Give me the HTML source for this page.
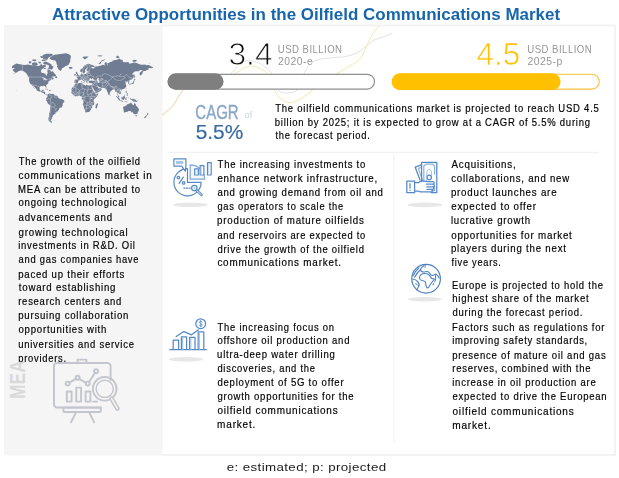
<!DOCTYPE html>
<html><head><meta charset="utf-8"><title>Attractive Opportunities in the Oilfield Communications Market</title>
<style>
html,body{margin:0;padding:0;background:#fff;}
body{width:619px;height:478px;position:relative;overflow:hidden;font-family:"Liberation Sans",sans-serif;}
#bg{position:absolute;left:0;top:0;width:619px;height:478px;}
.t{position:absolute;white-space:nowrap;line-height:1;transform-origin:0 0;display:block;}
.b{letter-spacing:0.85px;-webkit-text-stroke:0.18px currentColor;}
.thin{-webkit-text-stroke:0.9px #fff;}
.thiny{-webkit-text-stroke:0.7px #fff;}
.g{letter-spacing:0.5px;}
.cap{letter-spacing:0.35px;}
.cagr{-webkit-text-stroke:0.35px currentColor;}
.pct{-webkit-text-stroke:0.2px currentColor;}
.clipp{clip-path:inset(0 0 1.8px 0);}
#meaclip{position:absolute;left:0;top:361.8px;width:45px;height:60px;overflow:hidden;}
#mea{position:absolute;left:6.9px;top:37.3px;transform-origin:0 0;transform:rotate(-90deg) scale(0.775,1);font-size:22.5px;line-height:1;font-weight:700;color:#d9d9d9;white-space:nowrap;}
</style></head><body>
<svg id="bg" width="619" height="478" viewBox="0 0 619 478">
<defs>
<clipPath id="rp"><rect x="162" y="25.5" width="453" height="128"/></clipPath>
<filter id="bl" x="-20%" y="-100%" width="140%" height="300%"><feGaussianBlur stdDeviation="0.75"/></filter>
</defs>
<!-- right white panel with soft border -->
<rect x="161.5" y="25.4" width="453.6" height="429.5" fill="#ffffff" stroke="#f2f2f2" stroke-width="1.8"/>
<!-- left panel -->
<rect x="4" y="25" width="157.5" height="430.4" fill="#f5f5f5"/>
<!-- decorative curves -->
<g clip-path="url(#rp)" fill="none" stroke-width="0.9" stroke-linecap="round">
<path d="M162.0 114.5 C162.3 114.2 161.9 115.0 164.0 113.0 C166.1 111.0 171.9 106.2 174.7 102.7 C177.5 99.2 178.4 95.1 181.0 92.0 C183.6 88.9 185.2 86.0 190.0 84.0 C194.8 82.0 204.2 81.2 210.0 80.0 C215.8 78.8 221.2 78.3 225.0 77.0 C228.8 75.7 230.0 74.5 232.5 72.3 C235.0 70.1 237.2 65.8 239.8 63.9 C242.4 62.0 245.0 60.9 248.2 60.7 C251.3 60.5 255.9 61.8 258.7 62.8 C261.5 63.8 262.9 65.3 265.0 67.0 C267.1 68.7 269.8 70.6 271.3 72.9 C272.8 75.2 273.1 78.3 274.0 81.0 C274.9 83.7 275.2 87.1 276.6 89.0 C278.0 90.9 280.2 92.0 282.6 92.6 C285.0 93.2 288.6 93.1 291.0 92.6 C293.4 92.1 295.6 91.6 297.3 89.7 C299.0 87.8 299.8 83.9 301.0 81.0 C302.2 78.1 303.2 75.0 304.7 72.3 C306.2 69.6 307.6 67.0 309.9 64.9 C312.2 62.8 314.4 60.9 318.3 59.7 C322.2 58.5 328.4 58.1 333.0 57.6 C337.6 57.1 341.4 57.4 345.6 56.5 C349.8 55.6 354.4 54.4 358.2 52.3 C362.0 50.2 365.9 46.0 368.7 43.9 C371.5 41.8 372.7 40.8 375.0 39.7 C377.3 38.6 379.6 38.3 382.4 37.2 C385.2 36.1 390.4 33.7 392.0 33.0" stroke="#dcdce2"/>
<path d="M162.0 115.5 C162.8 114.9 165.2 113.4 167.0 112.0 C168.8 110.6 170.6 109.6 172.6 107.0 C174.6 104.4 177.2 99.1 178.9 96.4 C180.7 93.7 180.4 93.1 183.1 91.0 C185.8 88.9 189.7 85.8 195.0 84.0 C200.3 82.2 209.2 81.3 215.0 80.0 C220.8 78.7 226.2 77.3 230.0 76.0 C233.8 74.7 235.4 73.6 237.7 72.3 C240.0 71.0 241.6 69.0 244.0 68.0 C246.4 67.0 249.6 65.8 252.4 66.0 C255.2 66.2 258.4 67.8 260.8 69.0 C263.2 70.2 265.3 71.3 267.0 73.3 C268.7 75.3 269.8 78.2 271.0 81.0 C272.2 83.8 273.1 87.2 274.5 90.0 C275.9 92.8 277.1 95.4 279.5 97.5 C281.9 99.6 285.6 102.4 288.9 102.7 C292.2 103.0 295.9 101.3 299.4 99.6 C302.9 97.8 306.5 95.0 309.9 92.2 C313.3 89.4 316.6 85.5 320.0 83.0 C323.4 80.5 326.8 78.8 330.0 77.0 C333.2 75.2 336.0 74.1 339.3 72.3 C342.6 70.5 346.3 68.3 349.8 66.0 C353.3 63.7 357.5 61.9 360.3 58.6 C363.1 55.3 364.5 50.2 366.6 46.0 C368.7 41.8 370.8 36.7 372.9 33.4 C375.0 30.1 378.1 27.2 379.2 26.0" stroke="#f6e3a0"/>
</g>
<!-- progress bar 1 -->
<rect x="168.6" y="74.3" width="205.9" height="14.8" rx="7.4" fill="#ffffff" stroke="#8f8f8f" stroke-width="1.15"/>
<rect x="167.4" y="73.2" width="56.2" height="16.6" rx="8.3" fill="#7f7f7f"/>
<!-- progress bar 2 -->
<rect x="392.5" y="74.3" width="206.8" height="14.8" rx="7.4" fill="#ffffff" stroke="#f7c23c" stroke-width="1.1"/>
<rect x="391.6" y="73.2" width="169" height="16.9" rx="8.45" fill="#ffc000"/>
<!-- separators -->
<rect x="168.5" y="151.8" width="430" height="1.1" fill="#f0f0f0"/>
<rect x="393.4" y="154.5" width="1.1" height="288.5" fill="#f1f1f1"/>

<!-- world map -->
<g id="map">
<path d="M11.8 67.6L12.5 65.7L16.3 63.6L22.4 64.8L25.2 64.9L27.6 64.4L31.9 65.2L35.5 65.8L38.6 65.9L40.4 65.2L41.0 63.2L42.6 65.4L44.6 64.8L45.9 65.6L45.7 66.9L44.2 67.1L43.6 68.2L41.8 69.3L40.8 71.0L41.6 72.7L43.8 73.3L45.5 73.7L45.7 75.0L46.5 75.8L46.9 75.4L47.0 74.1L47.8 73.0L47.3 71.7L47.5 70.7L47.3 69.5L48.9 69.6L50.5 70.4L50.7 71.6L52.1 71.8L52.5 70.8L53.7 72.4L54.4 73.5L55.6 74.6L56.1 75.4L54.8 76.4L52.5 76.4L51.3 77.0L52.7 77.1L52.5 77.8L54.0 78.5L53.1 79.2L52.1 79.7L51.7 79.0L50.5 79.7L50.3 80.4L48.9 81.1L48.3 82.3L48.1 83.6L46.9 84.5L46.1 85.2L46.5 87.2L46.4 87.9L45.8 87.6L45.4 86.5L45.0 85.9L43.4 85.7L42.6 86.2L41.0 86.1L39.7 86.8L39.6 88.0L39.5 89.1L40.2 90.4L40.8 90.8L42.0 90.7L42.4 89.7L43.8 89.5L43.5 90.8L43.1 91.7L45.0 91.8L45.2 92.1L45.1 93.5L45.5 94.5L46.6 94.4L47.6 94.7L47.4 95.2L46.6 95.2L46.3 94.8L45.4 94.8L44.3 94.1L43.6 92.9L42.0 92.5L40.8 91.6L39.2 91.6L37.8 90.9L36.5 90.0L36.5 89.0L35.1 87.8L33.7 86.1L32.8 85.2L32.9 85.9L33.9 87.4L34.7 88.4L34.8 88.9L33.8 88.0L33.0 86.8L32.4 85.8L31.8 84.7L30.5 83.9L29.9 82.8L29.1 81.2L29.1 80.0L29.1 78.4L28.9 77.3L29.7 77.5L29.5 76.8L28.0 76.0L26.7 74.1L25.4 72.4L24.2 71.7L22.8 71.1L20.4 70.5L19.1 71.0L18.1 71.6L17.1 72.3L15.7 73.0L14.1 73.8L13.0 74.1L14.5 73.3L15.7 71.9L14.1 71.7L12.9 70.5L12.7 69.5L14.5 68.7L14.5 68.0L12.3 68.2ZM46.5 61.8L48.1 62.5L51.3 64.2L51.7 65.6L53.7 66.7L52.7 68.2L52.1 69.8L49.9 69.3L47.4 68.2L49.1 67.2L48.9 65.6L46.9 64.5L44.6 64.5L43.0 63.4L43.8 62.0ZM31.9 63.1L34.7 62.3L36.7 62.7L38.0 64.5L36.7 65.5L33.5 65.6L31.9 64.5ZM28.7 63.1L29.1 61.3L31.7 61.6L30.7 63.6L29.5 63.6ZM42.6 59.6L47.3 59.7L48.5 57.5L53.3 54.9L51.3 53.7L46.5 53.7L42.2 55.2L43.8 57.0ZM41.8 59.7L46.5 60.4L46.5 61.2L41.8 61.0ZM32.3 59.6L35.5 59.6L36.7 60.8L34.7 61.2L32.3 60.8ZM40.2 56.1L43.4 56.3L43.8 57.9L41.0 58.1ZM38.6 61.7L40.2 61.7L41.4 62.7L39.8 63.4L38.2 62.7ZM44.0 67.6L46.1 68.4L45.4 69.3L43.8 68.8ZM54.7 77.7L56.0 75.7L57.2 77.3L57.2 78.2L56.1 78.1L56.0 77.7ZM27.4 76.1L28.7 76.5L29.4 77.3L28.6 77.1ZM49.3 58.2L51.3 56.6L54.4 54.7L60.4 53.9L66.3 53.2L70.3 54.9L71.0 56.6L70.3 59.2L70.3 61.2L69.5 63.1L68.7 64.5L67.5 65.6L65.5 65.9L63.9 67.4L62.3 67.9L61.6 69.5L61.0 71.0L60.0 70.5L58.8 69.8L57.8 68.2L57.0 66.6L57.6 65.2L56.6 64.2L56.4 62.3L55.2 60.4L52.1 60.0L50.5 59.2ZM68.7 67.6L69.5 67.0L71.8 66.9L72.8 67.9L70.8 68.9L69.3 68.6ZM47.6 94.7L48.3 93.9L49.9 93.2L49.9 93.8L51.3 93.9L52.9 93.9L53.7 93.9L54.4 94.7L55.6 95.7L56.8 95.8L57.8 96.4L58.4 97.7L59.0 98.6L60.6 99.1L62.3 99.2L63.5 100.0L64.3 100.7L64.3 101.7L63.5 102.7L62.7 103.5L62.7 105.1L62.2 106.5L61.6 107.4L60.4 107.7L59.0 108.6L58.9 109.7L58.0 110.8L57.0 112.1L55.8 112.4L55.1 112.1L55.6 113.2L55.3 114.0L53.7 114.4L53.5 115.3L52.5 115.3L52.9 116.1L52.3 117.2L51.5 117.8L52.1 118.6L50.9 120.0L51.1 121.0L52.4 122.3L51.1 122.7L49.9 121.8L48.7 120.8L48.3 118.7L48.9 116.7L49.1 114.8L49.1 113.4L49.9 111.2L50.0 109.5L50.3 107.6L50.4 105.5L49.7 104.9L48.0 103.7L47.6 102.9L46.9 101.3L46.1 100.5L46.0 99.8L46.5 99.3L46.1 98.5L46.5 97.8L47.0 97.5L47.6 96.5L47.5 95.4L47.4 95.2ZM74.6 82.8L74.4 81.9L74.7 80.7L74.5 80.0L75.2 79.6L77.4 79.8L77.7 78.5L76.3 77.3L77.6 77.2L77.5 76.6L78.2 76.6L78.8 76.0L79.5 75.8L80.1 74.9L80.9 74.6L81.6 74.4L81.4 72.8L82.3 72.3L82.2 73.3L82.0 73.8L82.5 74.4L83.7 74.4L85.5 74.0L86.0 74.1L86.5 73.7L86.5 72.7L87.6 72.6L87.4 71.6L89.2 71.2L90.0 71.0L88.4 70.7L87.2 71.0L86.6 70.4L86.7 69.2L88.2 67.8L86.9 67.4L86.5 68.5L85.0 69.8L85.0 70.7L85.6 71.1L84.7 72.4L84.5 73.2L83.8 73.6L83.3 73.6L83.1 73.1L82.6 71.9L82.4 71.4L81.3 72.1L80.4 71.7L80.1 70.4L80.9 69.2L82.3 68.4L83.3 67.1L84.3 65.7L85.7 64.7L87.4 64.1L88.4 63.7L90.4 64.3L90.6 64.7L92.4 65.1L94.4 66.0L94.4 66.9L93.2 67.1L91.2 66.7L91.9 67.9L92.0 68.3L93.2 68.4L94.2 68.2L94.0 67.4L95.6 67.1L95.7 65.6L96.3 65.9L96.7 66.7L99.5 65.7L101.5 65.6L102.1 64.7L103.7 65.0L105.2 65.7L104.6 64.7L104.6 63.6L105.4 62.3L106.9 62.6L106.8 64.3L107.3 65.8L107.6 65.2L107.4 63.1L109.0 62.9L110.2 61.9L112.6 61.6L112.2 60.8L115.3 60.0L117.7 59.6L119.4 58.6L120.5 59.6L122.8 60.0L123.0 61.7L121.2 61.6L122.8 62.0L125.6 62.3L128.4 62.0L129.4 63.7L130.7 63.4L133.5 62.7L133.9 62.5L137.5 63.2L138.6 63.9L141.4 64.7L142.2 64.8L145.6 64.5L145.8 65.2L148.5 64.9L149.3 65.3L151.3 66.5L153.4 67.2L152.1 67.9L150.9 68.3L149.7 67.9L148.3 68.1L149.0 69.5L146.9 69.9L145.4 71.0L143.8 71.1L142.7 71.8L142.6 73.3L142.1 74.1L141.4 74.8L140.7 75.0L140.1 76.0L139.7 74.6L139.7 73.0L140.2 72.3L141.4 71.2L142.7 70.0L141.4 69.9L140.1 70.1L139.0 71.3L137.1 71.3L134.7 71.4L133.5 72.4L132.5 73.8L131.6 74.0L132.3 74.5L133.5 74.6L134.0 75.3L133.7 76.5L133.6 77.5L132.9 78.3L131.7 79.5L130.7 80.1L129.9 80.2L129.4 80.7L129.4 81.4L128.6 81.7L128.9 82.0L129.3 82.8L129.3 83.5L128.6 83.8L128.1 83.8L128.2 83.0L128.0 82.4L127.7 81.6L127.3 81.4L126.1 81.9L126.3 81.0L125.2 81.8L124.7 82.1L125.2 82.6L125.9 82.4L126.6 82.7L125.7 83.2L125.3 83.7L125.9 84.6L126.3 85.4L126.4 85.9L126.0 86.7L125.4 87.8L124.8 88.3L124.2 88.8L123.3 89.1L122.0 89.5L121.8 90.0L121.5 89.5L120.9 89.4L120.3 89.8L120.0 90.5L120.7 91.5L121.3 92.7L121.2 93.5L120.5 94.0L119.7 94.6L119.7 94.1L118.9 93.7L118.6 93.3L118.0 93.0L117.9 92.7L117.7 93.1L117.4 93.9L117.6 94.4L117.9 95.2L118.4 95.5L118.9 95.9L119.1 96.5L119.1 97.1L119.4 97.5L119.0 97.5L118.2 97.0L117.8 96.1L117.8 95.5L117.1 94.9L117.1 94.1L117.1 93.1L116.8 92.1L116.7 91.5L115.9 91.8L115.4 91.7L115.4 90.7L114.6 89.7L114.4 89.1L113.9 89.3L113.3 89.4L112.6 89.5L112.4 90.0L111.8 90.2L110.7 91.4L109.9 91.9L109.9 92.8L109.7 94.0L109.4 94.4L109.1 94.6L108.8 94.9L108.4 94.5L108.0 93.5L107.6 92.3L107.2 91.5L106.9 90.5L106.9 89.7L106.8 89.2L106.1 89.8L105.4 89.1L105.9 88.8L105.1 88.5L104.6 88.1L104.4 87.8L102.7 87.9L101.1 87.8L100.7 87.2L100.4 87.1L99.7 87.3L98.9 86.9L98.2 86.3L97.9 85.8L97.5 85.7L97.1 86.1L97.4 86.7L98.0 87.3L98.2 88.0L98.4 87.5L98.6 88.2L98.9 88.3L99.5 88.3L100.5 87.5L100.5 88.0L101.3 88.6L101.8 89.0L101.3 89.9L101.0 90.5L100.4 90.9L99.9 91.3L98.8 91.9L97.5 92.5L95.9 93.0L95.4 93.0L95.1 92.2L95.0 91.5L94.4 90.5L93.7 89.5L93.4 88.5L92.8 87.8L92.2 86.8L92.0 86.1L91.7 86.9L91.4 86.6L91.0 85.9L90.9 85.3L91.7 85.3L92.0 84.6L92.4 83.7L92.4 82.9L91.8 82.9L91.0 83.2L90.3 82.9L89.7 82.9L89.0 82.8L88.6 82.2L88.8 81.6L88.5 81.3L89.6 81.1L89.7 80.8L90.6 80.8L91.4 80.4L92.1 80.4L92.6 80.8L93.4 81.0L94.6 80.7L94.6 80.2L93.9 79.7L93.1 79.1L92.7 78.9L93.2 78.3L93.7 77.9L93.0 78.0L92.1 78.3L92.2 78.9L91.4 79.3L91.0 78.8L91.4 78.5L90.7 78.3L90.3 78.3L89.9 78.9L89.5 79.5L89.2 80.1L89.3 80.6L89.5 80.8L89.0 81.0L88.4 81.1L87.6 81.0L87.4 81.3L87.2 81.2L87.2 81.7L87.6 82.3L87.3 83.0L87.0 83.0L86.7 82.9L86.5 82.4L86.5 81.8L86.0 81.5L85.8 80.9L85.8 80.5L85.5 80.2L84.5 79.7L84.1 79.2L83.9 78.9L83.5 78.9L83.6 78.7L83.1 78.8L83.1 79.4L83.5 79.7L83.8 80.3L84.5 80.5L85.3 81.1L85.5 81.3L84.9 81.2L84.7 81.6L85.0 81.8L84.7 82.1L84.5 82.4L84.4 82.3L84.4 81.4L83.8 81.0L83.0 80.6L82.3 80.0L82.2 79.5L81.6 79.3L81.1 79.6L80.5 79.9L79.7 79.7L79.3 80.2L79.4 80.5L78.5 81.0L78.0 81.7L78.2 81.9L77.9 82.4L77.4 82.9L76.4 82.9L76.0 83.2L75.7 82.9L75.2 82.7ZM75.8 83.3L77.0 83.5L77.9 83.4L79.3 82.9L81.2 82.8L82.1 82.6L82.5 82.7L82.4 83.3L82.2 84.0L82.6 84.5L83.4 84.6L84.2 84.8L85.7 85.7L86.1 85.0L86.7 84.6L87.3 84.9L88.1 85.2L89.6 85.5L90.0 85.3L90.4 85.2L90.9 85.3L91.0 85.9L91.4 86.8L91.8 87.8L92.2 88.5L92.8 89.5L92.9 90.3L93.4 90.9L93.8 91.9L94.4 92.3L95.2 93.1L95.3 93.5L95.8 93.9L96.7 93.7L98.4 93.4L98.2 94.1L97.8 95.0L97.1 96.3L96.1 97.3L95.2 98.3L94.6 98.8L94.1 99.3L93.8 99.9L93.5 100.7L93.8 101.3L93.8 102.1L94.2 102.3L94.2 103.7L94.2 104.5L93.4 105.0L92.7 105.3L92.0 106.0L92.2 106.9L92.2 107.8L91.1 108.5L91.1 109.5L90.5 110.2L89.6 111.4L88.8 112.0L88.3 112.1L87.1 112.2L86.1 112.4L85.4 112.2L85.4 111.4L85.0 110.1L84.3 109.0L84.0 107.8L83.9 106.9L83.1 105.3L82.8 104.5L83.1 103.5L83.6 102.5L83.4 101.6L83.0 100.5L82.8 99.9L81.9 98.9L81.6 98.4L81.9 97.7L82.0 96.8L81.7 96.3L80.9 96.4L80.3 96.0L79.5 95.6L78.6 95.7L77.4 96.2L76.6 96.0L75.2 96.4L74.5 95.9L73.9 95.6L72.9 94.7L72.7 94.3L72.2 93.7L71.6 93.2L71.5 92.7L71.2 92.2L71.6 91.7L71.7 90.5L71.4 89.7L71.8 88.5L72.3 87.8L73.0 86.9L73.7 86.4L74.4 85.7L74.3 85.2L74.8 84.4L75.5 84.1ZM97.6 102.9L98.1 104.3L97.7 105.1L96.8 108.2L95.9 108.4L95.4 107.6L95.7 106.1L95.8 104.6L96.5 104.4L97.1 103.5ZM75.9 76.4L76.8 76.3L78.7 75.9L78.8 75.1L78.3 74.9L78.1 74.1L77.5 73.5L77.3 73.3L77.4 72.4L76.8 72.3L77.0 71.8L76.2 71.8L75.7 72.4L76.0 73.3L76.3 73.9L76.9 73.9L77.0 74.7L76.4 74.7L76.5 75.3L76.1 75.5L76.9 75.8L76.5 75.9ZM74.2 75.7L75.7 75.3L75.8 74.7L75.9 74.0L75.3 73.7L74.8 74.2L74.2 74.3L74.4 74.8L74.1 75.3ZM129.6 85.3L130.1 85.3L130.3 84.3L131.3 84.1L131.6 84.3L132.2 83.9L133.0 83.8L133.5 83.6L133.9 83.4L133.9 82.2L134.3 81.5L134.1 80.7L133.5 81.0L133.4 81.8L132.9 82.6L132.3 82.7L132.2 82.9L131.9 83.4L130.7 83.4L129.9 84.0L129.4 84.5ZM133.5 80.4L133.9 79.9L134.2 78.8L135.6 79.7L134.8 80.4L133.9 80.2ZM134.3 78.5L134.9 78.1L134.7 76.9L135.3 77.0L134.8 75.4L134.6 74.2L134.3 74.6L134.2 76.5L134.3 77.5ZM126.0 89.3L126.3 88.0L126.0 88.0L125.6 88.8ZM121.1 90.4L121.6 90.1L122.0 90.2L121.6 90.8ZM109.7 94.3L110.5 95.1L110.3 95.6L109.8 95.7L109.7 94.9ZM125.8 90.7L126.5 90.7L126.5 91.7L127.2 92.6L127.1 93.0L126.4 92.5L125.8 92.4L125.6 91.6ZM126.4 95.3L127.0 94.7L127.8 94.2L128.2 95.2L127.8 95.8L127.2 95.5ZM126.4 93.9L126.8 93.5L127.8 93.1L127.8 94.1L127.2 94.1L126.8 94.5ZM124.5 94.7L125.4 93.9L125.4 93.6L124.8 94.3ZM121.2 97.5L121.5 97.3L122.2 97.0L122.8 96.8L123.8 95.9L124.4 95.3L125.3 96.0L124.7 96.4L125.2 97.7L124.6 98.4L124.2 99.6L123.5 99.7L122.8 99.4L122.3 99.5L121.7 99.2L121.6 98.6L121.2 98.1ZM115.8 95.9L116.7 96.0L117.9 97.2L119.1 98.1L119.5 98.9L120.1 99.4L120.0 100.4L119.5 100.4L118.6 99.7L117.9 98.7L117.2 97.4L116.5 96.8ZM119.7 100.8L120.3 100.5L121.1 100.8L122.0 100.6L122.7 100.8L123.4 101.2L123.4 101.5L122.0 101.4L120.9 101.2L120.2 101.0ZM125.4 100.3L125.2 99.4L125.5 98.0L126.0 97.6L127.0 97.7L127.7 97.5L127.2 98.0L125.9 97.9L126.1 98.5L126.9 98.5L126.4 98.8L126.7 99.7L126.3 100.0L126.0 99.2L125.8 99.3L125.8 100.3ZM129.9 98.4L131.1 98.4L131.5 99.4L132.6 98.7L133.9 99.1L135.3 99.6L136.3 100.5L136.6 101.3L137.7 102.3L136.3 102.1L134.9 101.6L133.9 101.7L132.9 101.4L132.7 100.7L131.5 99.9L130.7 99.7L130.3 99.1ZM124.0 101.4L125.2 101.4L126.8 101.4L127.6 101.9L127.0 102.2L125.6 101.9L124.0 101.6ZM128.6 97.3L129.0 97.7L128.8 98.4L128.5 97.9ZM136.9 100.3L138.2 99.8L138.3 100.3L137.3 100.6ZM123.0 106.9L123.3 108.6L123.6 110.5L123.9 111.6L123.6 112.2L124.8 112.5L125.6 112.0L127.0 112.0L128.0 111.3L129.2 111.0L130.0 111.0L131.1 111.6L131.8 112.4L132.6 111.6L132.7 112.8L133.4 113.0L133.7 113.9L134.9 114.3L135.5 113.9L136.0 114.4L136.7 113.8L137.5 113.5L137.8 112.5L138.0 111.9L138.6 111.0L138.9 109.7L138.7 108.6L137.9 107.7L137.3 107.0L136.9 106.2L136.0 105.7L135.8 104.8L135.6 104.0L135.0 103.8L134.5 102.4L134.2 103.1L134.1 104.1L133.8 105.1L133.3 105.1L132.6 104.5L131.8 104.1L131.9 103.0L131.7 102.9L130.6 102.7L129.9 103.0L129.5 103.5L129.4 104.1L128.8 104.1L128.3 103.7L127.8 103.9L127.2 104.6L126.5 105.0L126.5 105.5L125.4 106.1L124.3 106.4L123.5 106.8ZM135.4 115.1L136.8 115.2L136.7 116.3L136.1 116.5L135.6 115.9ZM146.4 112.3L147.1 112.7L147.5 113.3L148.7 113.8L148.1 114.6L148.0 115.0L147.4 115.6L147.3 114.8L146.9 114.5L147.3 113.7ZM146.5 115.1L147.0 115.5L146.5 116.6L145.8 117.4L145.2 118.0L144.0 117.7L144.7 116.8L145.7 116.1ZM82.5 57.0L84.5 56.6L86.5 56.4L88.8 56.6L86.9 58.1L84.9 59.4L83.7 58.5ZM98.5 63.4L100.1 62.2L101.9 60.2L105.2 59.2L104.3 60.2L101.1 61.7L100.7 63.8L99.3 64.0ZM115.7 57.3L117.7 55.5L119.7 57.5L117.7 58.3ZM132.3 60.4L134.3 59.8L137.5 60.6L134.7 62.0L132.7 61.6ZM96.7 56.1L99.9 55.2L102.7 55.7L101.1 56.6ZM148.7 63.7L150.1 63.4L149.3 64.0ZM44.6 89.3L45.5 88.8L46.5 88.8L47.7 89.4L48.8 90.0L47.5 90.1L47.3 89.8L46.1 89.3L45.4 89.3ZM48.8 90.7L49.3 90.1L50.5 90.2L51.1 90.7L50.3 90.8L49.8 91.0ZM47.2 90.7L48.0 90.8L47.6 91.0ZM51.6 90.7L52.2 90.8L51.9 90.9ZM83.1 82.3L84.3 82.2L84.1 82.9L83.1 82.5ZM81.4 80.9L82.0 80.9L82.0 81.8L81.5 81.8ZM81.6 80.2L81.9 80.0L81.9 80.7L81.6 80.6ZM87.4 83.4L88.6 83.6L87.6 83.7ZM90.9 83.7L91.8 83.4L91.5 83.8ZM16.5 90.0L17.0 90.3L16.6 90.5L16.4 90.2ZM54.0 120.5L55.2 120.4L54.8 120.9Z" fill="#6f7c91"/>
<path d="M96.7 79.0L97.7 78.3L99.1 78.1L98.9 79.0L98.3 79.2L99.0 80.2L98.9 80.9L99.5 81.4L99.4 82.6L98.3 82.9L97.5 82.5L97.6 81.2L96.9 80.0ZM41.8 78.1L43.4 77.3L44.8 78.3L46.5 78.8L46.7 79.7L45.4 80.4L45.2 79.0L43.8 80.4L43.4 79.2L44.2 78.5ZM119.3 75.7L121.4 73.5L121.6 73.7L119.7 75.7ZM90.7 98.3L91.6 98.0L91.6 99.1L90.8 99.1ZM101.3 78.3L102.5 78.3L102.3 79.6L101.3 79.5Z" fill="#f4f4f4"/>
<path d="M29.5 77.0L40.6 77.0L43.0 77.5L45.0 78.4L45.5 80.0L46.9 79.8L48.5 79.0L50.1 78.9L51.5 77.9L51.7 79.0M22.4 64.8L22.4 70.9L24.0 71.6L25.6 73.5L26.7 73.9M31.8 84.7L34.3 85.3L35.5 85.2L36.1 85.1L37.4 86.3L38.2 86.0L38.8 86.9L39.7 87.6M41.7 92.3L42.2 91.1L42.9 91.0L43.2 90.8M50.7 105.1L51.3 106.9L50.5 111.6L49.9 114.8L49.7 118.2L49.5 120.2L51.1 121.0M46.1 99.7L46.9 100.1L48.3 98.1L49.3 99.0L50.5 99.8L50.3 101.9L50.7 102.5L50.9 104.3L50.7 105.1M50.5 99.8L50.7 97.7L51.7 97.4L51.6 95.7L49.7 95.3L49.5 93.7M54.4 94.7L54.0 96.1L54.4 96.1L54.5 97.3L55.8 97.3L56.6 97.2L57.7 96.5M50.9 104.3L52.5 102.1L54.3 103.5L55.2 104.9L55.2 106.1L53.7 106.9L55.2 109.0L56.6 108.4L55.4 110.4L57.0 112.0M53.7 106.9L52.1 106.9L51.3 106.9M74.7 80.5L75.6 80.5L75.4 81.8L75.2 82.7M77.4 79.8L79.4 80.3M78.8 76.0L79.8 76.5L80.6 76.7L81.4 77.0L81.2 77.7L80.5 78.4L80.9 78.6L81.2 79.6M80.9 74.7L80.5 75.7L80.6 76.7M81.4 77.0L83.1 76.3L84.0 76.0L83.8 74.4M81.2 77.7L82.0 77.8L83.3 77.8L84.8 77.4L84.5 78.2L83.6 78.3L82.3 78.1L80.9 78.6M84.0 76.0L85.6 76.7L87.1 77.0L87.6 76.1L87.5 75.2L87.4 74.4L86.0 74.2M84.8 77.4L85.6 76.7M87.1 77.0L86.9 77.5L88.6 77.4L89.3 78.8L89.9 78.9M86.9 77.5L86.5 78.4L85.6 78.6L84.5 78.2M86.5 78.4L87.1 79.2L87.1 79.6L88.8 79.4L89.5 79.6M85.6 78.6L85.8 79.0L85.9 80.2L86.5 80.4L87.0 80.8L88.6 80.6L89.2 80.4M86.1 81.5L86.5 81.0L87.0 80.8M87.6 76.1L90.2 75.7L90.8 75.3L91.6 75.7L94.0 76.7L93.9 77.6L93.3 78.0M87.4 74.4L88.6 73.4L89.3 73.2L90.3 73.8L90.8 75.3M86.5 73.2L88.6 73.4M89.3 73.2L89.0 72.4L89.3 71.3M86.8 72.4L89.0 72.4M89.2 70.7L90.0 69.2L90.0 67.2L89.6 65.2L88.4 64.8L86.3 65.2L87.7 67.4M86.3 65.2L85.3 65.6L84.1 67.2L83.0 68.8L82.9 70.4L82.6 71.6M94.6 80.7L95.4 80.9L95.9 80.8L96.5 80.5L97.4 80.5M93.9 79.8L95.4 80.1L96.5 80.5M88.6 80.6L88.7 80.9M92.4 82.9L93.2 82.9L94.9 82.7L95.9 82.7L95.6 81.6L95.4 80.9M95.9 82.7L96.3 83.3L96.1 84.1L97.1 85.4L97.3 85.9M94.9 82.7L94.4 83.9L93.5 84.4L92.4 84.8L92.2 84.5M93.5 84.4L93.7 85.0L92.8 85.2L93.2 85.7L92.0 86.1M93.7 85.0L94.8 85.3L95.8 86.2L96.9 86.3L97.1 86.1M91.7 85.3L92.0 86.1M95.6 81.6L96.3 81.9L97.2 81.6L97.5 82.1M99.5 82.6L100.3 82.3L101.3 82.5L102.4 82.9L102.3 84.1L102.2 85.2L102.6 85.4L102.2 86.0L103.2 87.1L102.5 87.9M102.4 82.9L103.7 83.1L104.4 82.6L105.8 82.5L106.4 82.9L107.6 82.7L106.2 84.1L105.6 85.0L104.4 86.0L102.9 86.1L102.2 86.0M107.6 82.7L109.0 83.4L108.6 84.8L107.6 85.0L107.4 85.9L106.2 86.7L105.6 87.2L106.2 88.2L105.1 88.5M109.0 83.4L109.4 84.8L110.2 85.8L109.9 86.4L111.4 86.9L113.0 87.4L113.3 87.1L114.5 87.2L114.5 86.8L116.1 86.1L116.6 86.6M110.2 85.8L111.4 86.3L112.9 86.8L113.3 87.1M113.0 87.4L113.0 88.1L113.3 89.3L113.3 89.4M113.0 87.4L113.7 87.6L114.7 88.0L114.2 88.4L114.6 88.8L114.6 89.6M116.6 86.6L115.7 87.4L115.0 88.4L115.0 89.2L114.6 89.6M116.6 86.6L117.2 87.8L116.8 88.4L117.4 89.3L118.1 89.4L117.7 90.0M117.7 90.0L116.9 90.3L116.7 91.1L117.2 91.9L117.4 93.5L117.2 94.1M117.7 90.0L118.2 90.3L118.1 91.0L119.3 90.8L119.9 91.8L119.9 92.4L118.7 92.4L118.8 93.5M118.1 89.4L118.6 89.0L119.8 88.7L120.3 88.9L120.9 89.4M118.6 89.0L119.3 89.9L119.7 90.7L120.7 92.2L120.7 93.2L120.1 93.7L119.5 94.0M117.7 95.6L118.1 95.8L118.5 95.6M97.7 78.3L96.7 77.5L96.7 76.3L98.3 75.7L99.9 76.0L101.5 76.0L102.5 76.0L102.3 74.4L105.4 73.6L107.2 74.4L108.6 74.6L109.8 76.0L111.2 76.0L112.7 76.9M112.7 76.9L114.5 76.1L116.9 76.5L117.1 75.4L118.6 76.2L120.5 76.6L122.8 76.6L124.3 76.6L125.4 78.0L124.0 78.5L122.4 79.0L121.6 80.1L119.5 80.5L116.5 80.1L114.1 78.9L112.9 77.4L112.7 76.9M124.3 76.6L125.6 75.0L127.0 74.6L128.6 76.5L129.9 77.7L131.4 77.3L130.7 79.0L129.9 80.0L129.8 80.3M112.7 76.9L112.0 78.0L110.8 78.9L109.8 80.3L107.4 81.3L107.3 81.6L107.6 82.7M99.1 80.4L100.3 80.8L100.3 79.0L101.3 78.8M102.3 79.5L104.3 80.0L105.0 80.9L106.2 80.3L107.4 81.3M100.3 80.8L101.9 80.4L102.7 81.5L104.4 82.6M105.0 80.9L104.8 81.6L106.0 81.4L107.3 81.6M105.8 82.5L105.0 82.7M127.3 81.4L128.3 80.5L128.8 80.4L129.8 80.3M128.0 82.4L128.9 82.0M73.0 86.9L74.7 86.9L74.7 86.4L77.7 85.0L77.3 83.6M74.7 87.0L76.3 88.0L78.6 89.6L79.5 90.5L79.8 90.5L79.8 91.4L78.2 92.1L77.0 92.5L76.0 94.0L75.0 94.1L74.8 95.1L75.2 96.4M71.4 89.7L73.0 89.5L73.0 88.8L73.4 88.7L73.4 87.6L74.7 87.6L74.7 87.0M76.3 88.0L75.6 88.0L76.0 91.7L76.1 91.9L73.6 91.9L73.3 92.2L72.4 91.5L71.6 91.7M73.3 92.2L73.7 93.2L72.7 93.1L71.6 93.2M73.7 93.2L75.0 94.1M72.9 94.5L74.1 94.7L74.4 95.2L74.8 95.1M74.1 94.7L73.6 95.4M81.6 82.8L81.1 84.2L81.9 85.7L82.1 88.2L82.9 88.6M81.9 85.7L82.7 84.5M79.5 90.5L80.5 90.2L82.9 88.6L84.1 88.8L84.4 89.9L84.3 91.4L83.5 92.4L83.5 92.6M84.1 88.8L87.6 90.3L87.6 90.1L88.0 90.1L88.0 85.2M88.0 89.3L92.7 89.3M87.6 90.3L87.6 91.8L87.2 91.8L86.8 93.1L87.2 93.7L87.4 94.7L89.0 96.1L90.3 96.7M78.2 92.1L79.8 92.7L79.6 93.5L79.2 95.6M79.8 92.7L81.3 92.8L83.5 92.6L83.8 93.1L83.6 93.7L82.8 95.3L81.7 95.7L81.6 96.2M77.0 92.5L78.2 93.7L78.4 95.7M77.1 93.7L77.1 96.1M76.0 94.0L77.1 94.2M78.2 93.7L79.1 93.2M83.5 92.6L84.3 94.1L83.7 95.1L84.1 96.5L84.6 97.2L83.4 97.2L82.6 97.2L82.0 97.2M82.0 97.7L82.6 97.7L82.6 97.2M83.4 97.2L83.9 98.7L82.5 99.6M84.6 97.2L85.5 96.7L85.5 96.2L87.1 96.4L89.0 96.1M84.6 97.2L85.2 98.5L84.5 100.0L83.0 100.4M83.2 100.5L84.7 100.4L85.7 101.3L86.9 102.5L87.6 102.4L87.6 103.3L86.9 103.3L86.9 104.6L87.4 105.1L88.2 105.2M82.8 105.0L83.7 105.1L85.5 105.1L87.4 105.1M86.1 109.6L86.1 106.9L86.5 106.9L86.5 105.4L88.2 105.2M84.9 109.8L86.1 109.6L86.1 108.1L87.1 108.3L88.3 108.4L88.8 107.7L89.8 107.0L90.5 107.1L90.8 108.5L91.1 109.0M89.8 107.0L89.1 106.3L88.2 105.2L88.8 105.3L90.2 104.3L91.2 104.7L91.1 105.7L90.5 107.1M87.6 102.4L89.0 102.9L89.6 103.4L89.4 101.8L90.3 101.4L91.2 101.8L91.3 103.7L90.2 104.3M91.2 101.8L91.8 102.7L92.4 104.0L92.1 104.9L91.2 104.7M91.8 102.7L94.1 102.3M90.3 101.4L89.8 99.9L90.2 98.5L89.9 98.7L89.7 97.7L90.4 97.2L90.3 96.7M90.2 98.5L91.6 98.5L93.1 99.3L93.7 100.0M91.6 98.5L91.6 98.0L92.0 97.4L91.6 96.4L92.4 96.3M90.3 96.7L91.6 96.4M92.4 96.3L92.4 96.4L94.4 96.6L94.4 98.5L94.6 98.8M94.4 96.6L95.1 96.4L95.9 96.1L97.1 94.9L95.6 94.5L95.2 93.5M92.4 96.3L91.6 94.9L91.2 94.7L91.6 93.9L92.0 93.3L92.5 92.4L93.1 92.2L93.6 92.2L94.9 93.1M91.2 94.7L91.3 94.1L90.8 93.3L91.3 93.3L91.6 93.9M87.4 94.7L88.0 94.0L89.6 94.3L90.8 93.3M92.5 92.4L92.7 91.3L93.4 90.9M95.2 93.0L95.3 91.1L96.3 91.2L97.1 90.7L98.7 90.5L99.1 91.5M98.7 90.5L99.9 90.1L100.2 89.3L100.0 89.0L100.3 88.4L100.5 88.0M98.6 88.2L98.7 88.8L100.0 89.0M133.9 99.1L133.9 101.7M121.5 97.3L121.8 97.8L122.8 97.5L123.6 97.1L124.0 96.4L124.6 96.4M127.2 101.8L127.7 101.8" fill="none" stroke="#dfe3e9" stroke-width="0.38" stroke-linejoin="round"/>

</g>

<!-- MEA presentation icon -->
<g fill="none" stroke="#c3c6cd" stroke-width="1.95" stroke-linecap="round" stroke-linejoin="round">
<path d="M77.6 363 V359.6 H86.4 V363"/>
<path d="M110.6 380 V366 a3 3 0 0 0 -3 -3 H57 a3 3 0 0 0 -3 3 V404.4 a3 3 0 0 0 3 3 H101"/>
<rect x="63.4" y="407.6" width="37.4" height="4.4" rx="1"/>
<path d="M76 412.4 L71 422.2 M89.2 412.4 L94.2 422.2"/>
<path d="M69.4 382.6 L75.8 378.8 M79.4 379 L86 382.8 M89 382 L95 372.8"/>
<circle cx="67.7" cy="383.6" r="2"/><circle cx="77.6" cy="377.8" r="2"/><circle cx="87.8" cy="383.6" r="2"/><circle cx="96.1" cy="371.2" r="2"/>
<rect x="66.8" y="391.4" width="4.8" height="10.2"/><rect x="76.3" y="387.6" width="4.8" height="14"/><rect x="85.6" y="391.4" width="4.8" height="10.2"/>
<path d="M93 401.6 H97"/>
<circle cx="104.7" cy="388.8" r="11.8"/><circle cx="104.7" cy="388.8" r="8.6" stroke-width="1.4"/>
<path d="M111.6 398.6 L117.4 408.6" stroke-width="4.6"/>
<path d="M111.6 398.6 L117.4 408.6" stroke="#f4f4f4" stroke-width="1.6"/>
</g>

<!-- icon shadows -->
<g fill="#e7e7e7" filter="url(#bl)">
<ellipse cx="190.5" cy="204.8" rx="17.3" ry="2.3"/>
<ellipse cx="186" cy="359.3" rx="17.3" ry="2.3"/>
<ellipse cx="425" cy="204.9" rx="17.2" ry="2.3"/>
<ellipse cx="424.8" cy="299.2" rx="17" ry="2.2"/>
</g>

<!-- icon 1: pie/analytics -->
<g fill="none" stroke="#5589c6" stroke-width="1.2" stroke-linejoin="round" stroke-linecap="round">
<path d="M187.5 168.7 A13.6 13.6 0 1 0 201.1 182.3 H187.5 Z"/>
<path d="M190.2 164.8 A14.4 14.4 0 0 1 204.6 179.2 H190.2 Z" fill="#f3f7fc" stroke="#7fa6d6"/>
<path d="M173.9 158.8 H185.9 V166.1 L185.3 171.2 L181.6 166.1 H173.9 Z" fill="#ffffff"/>
<rect x="176" y="160.9" width="7.3" height="3.1" fill="#a9c5e4" stroke="none"/>
<rect x="194.7" y="168.8" width="3.6" height="6.2" fill="#ffffff"/>
<rect x="200.1" y="165.7" width="3.8" height="9.3" fill="#ffffff"/>
<rect x="207.5" y="162.6" width="3.7" height="12.4" fill="#ffffff"/>
<path d="M195.9 174.4 V170.2 M201.4 174.4 V167.2 M208.7 174.4 V164" stroke="#bcd2ec" stroke-width="0.9"/>
<circle cx="178.4" cy="177.6" r="1.3"/><circle cx="183.6" cy="182.9" r="1.3"/><path d="M183.3 177.1 L179.1 183.4"/>
<path d="M183.8 188.1 H190.4" stroke-dasharray="1.2 1.4"/>
<circle cx="194.3" cy="188.1" r="2.7" fill="#ffffff"/><circle cx="194.3" cy="188.1" r="1" fill="#a9c5e4" stroke="none"/>
<path d="M196.5 190.3 L201.4 194.8" stroke-width="2.6"/><path d="M196.9 190.7 L201.2 194.6" stroke="#ffffff" stroke-width="0.9"/>
</g>

<!-- icon 2: bars with dollar -->
<g fill="none" stroke="#5589c6" stroke-width="1.25" stroke-linejoin="round" stroke-linecap="round">
<path d="M169.8 349.6 H206.4" stroke-width="1.2"/>
<path d="M173.2 349.4 V340.2 H178.6 V349.4"/>
<path d="M181.4 349.4 V336.8 H186.6 V349.4"/>
<path d="M189.6 349.4 V337.4 H195 V349.4"/>
<path d="M198.2 349.4 V331.8 H203.8 V349.4"/>
<path d="M199.4 349 V333" stroke="#a9c5e4"/><path d="M182.6 349 V338" stroke="#a9c5e4"/><path d="M190.8 349 V338.6" stroke="#a9c5e4"/>
<path d="M176.2 336.6 L183.8 331.6 L191.6 334.8 L198.4 329.8"/>
<circle cx="200.7" cy="323.7" r="4.9"/>
<path d="M202.2 322.2 C201.6 321 199.2 321 199.2 322.5 C199.2 324 202.3 323.4 202.3 325 C202.3 326.5 199.6 326.5 199 325.2 M200.7 320.6 V326.8" stroke-width="0.8"/>
</g>

<!-- icon 3: hand with money -->
<g fill="none" stroke="#5589c6" stroke-width="1.25" stroke-linejoin="round" stroke-linecap="round">
<path d="M420 180 L415.2 167.2 L421.4 164.8"/>
<path d="M422.4 180 L418.4 168.4 L421.4 167.4" stroke="#8fb2db"/>
<path d="M421.6 181.6 V162.4 H436.8 V192.6 H431"/>
<path d="M423.8 180.8 V166 L426 164.2 H432.6 L434.6 166.2 V174 M434.6 186 V190.6 H431.6" stroke="#8fb2db"/>
<circle cx="429.2" cy="177.4" r="2.2"/>
<path d="M426.8 181.6 V173 C426.8 168 431.6 168 431.6 173 V175.4" stroke="#8fb2db" stroke-width="0.8"/>
<rect x="406.8" y="181" width="7.8" height="11.6" fill="#ffffff"/>
<path d="M410 183.6 V188.2 M410 190 V190.4" stroke-width="1.2"/>
<path d="M414.6 182.6 H418.4 L421.4 180.8 L428 181.6 H433 C434.6 181.6 434.6 184.2 433 184.2 H426.4 M433 184.2 C434.8 184.2 434.8 186.8 433 186.8 H426.8 M432.6 186.8 C434.2 186.8 434.2 189.4 432.6 189.4 H427 M431.6 189.4 C433 189.4 433 191.8 431.6 191.8 H420.4 L417.6 191 H414.6" fill="none"/>
</g>

<!-- icon 4: globe -->
<g transform="translate(405,258) scale(0.08787)" fill="none" stroke="#4a80c2" stroke-width="12" stroke-linejoin="round" stroke-linecap="round">
<circle cx="240" cy="236" r="163" stroke-width="13"/>
<path d="M185 185 C170 200 160 225 172 245 C185 262 215 255 228 268 C238 285 235 315 250 338 C262 345 275 330 285 305 C295 285 320 265 335 240 L302 232 C292 215 282 197 268 188 C250 178 215 172 185 185 Z"/>
<path d="M218 86 C197 98 181 114 176 132 C180 150 200 161 218 160 C232 158 248 148 262 156 C278 166 286 186 305 198 C320 204 335 190 347 182 C365 186 380 205 389 228"/>
<path d="M347 200 C353 225 351 250 338 272"/>
<path d="M88 238 C105 240 126 246 145 268 C160 285 168 300 158 320 C150 335 138 342 136 364"/>
<path d="M120 292 C135 298 148 306 158 318" stroke-width="10"/>
<path d="M93 202 C109 169 131 136 159 111 M110 220 C127 186 148 156 177 131"/>
<path d="M238 80 C230 90 226 98 228 108" stroke-width="10"/>
<ellipse cx="322" cy="300" rx="6.5" ry="15" transform="rotate(14 322 300)" fill="#4a80c2" stroke="none"/>
</g>
</svg>
<div id="meaclip"><div id="mea">MEA</div></div>
<div class="t" style="left:0;top:7px;font-size:15.6px;color:#1766ad;font-weight:700;transform:translate3d(51.93px,0,0) scaleX(1.0881);">Attractive Opportunities in the Oilfield Communications Market</div>
<div class="t thin" style="left:0;top:39px;font-size:31.7px;color:#111111;transform:translate3d(228.40px,0,0) scaleX(1.0050);">3.4</div>
<div class="t g" style="left:0;top:45px;font-size:10.4px;color:#969696;transform:translate3d(277.80px,0,0) scaleX(0.9218);">USD BILLION</div>
<div class="t g" style="left:0;top:57px;font-size:10.4px;color:#969696;transform:translate3d(277.91px,0,0) scaleX(1.0008);">2020-e</div>
<div class="t thiny" style="left:0;top:39px;font-size:31.7px;color:#ffc000;transform:translate3d(476.51px,0,0) scaleX(0.9908);">4.5</div>
<div class="t g" style="left:0;top:45px;font-size:10.4px;color:#969696;transform:translate3d(527.30px,0,0) scaleX(0.9248);">USD BILLION</div>
<div class="t g" style="left:0;top:57px;font-size:10.4px;color:#969696;transform:translate3d(527.41px,0,0) scaleX(1.0037);">2025-p</div>
<div class="t cagr" style="left:0;top:103px;font-size:19.4px;color:#89a6cb;transform:translate3d(195.30px,0,0) scaleX(0.7748);">CAGR</div>
<div class="t" style="left:0;top:110px;font-size:9.6px;color:#cad6e6;transform:translate3d(244.51px,0,0) scaleX(0.9820);">of</div>
<div class="t pct" style="left:0;top:121px;font-size:21px;color:#376aa4;transform:translate3d(195.75px,0,0) scaleX(0.9918);">5.5%</div>
<div class="t b" style="left:0;top:103px;font-size:10.6px;color:#000000;transform:translate3d(275.25px,0,0) scaleX(0.8966);">The oilfield communications market is projected to reach USD 4.5</div>
<div class="t b" style="left:0;top:117px;font-size:10.6px;color:#000000;transform:translate3d(274.81px,0,0) scaleX(0.8951);">billion by 2025; it is expected to grow at a CAGR of 5.5% during</div>
<div class="t b" style="left:0;top:130px;font-size:10.6px;color:#000000;transform:translate3d(275.40px,0,0) scaleX(0.8836);">the forecast period.</div>
<div class="t b" style="left:0;top:156px;font-size:10.6px;color:#000000;transform:translate3d(18.65px,0,0) scaleX(0.8877);">The growth of the oilfield</div>
<div class="t b" style="left:0;top:170px;font-size:10.6px;color:#000000;transform:translate3d(18.49px,0,0) scaleX(0.9341);">communications market in</div>
<div class="t b" style="left:0;top:184px;font-size:10.6px;color:#000000;transform:translate3d(18.05px,0,0) scaleX(0.9003);">MEA can be attributed to</div>
<div class="t b" style="left:0;top:197px;font-size:10.6px;color:#000000;transform:translate3d(18.50px,0,0) scaleX(0.9028);">ongoing technological</div>
<div class="t b" style="left:0;top:212px;font-size:10.6px;color:#000000;transform:translate3d(18.50px,0,0) scaleX(0.9152);">advancements and</div>
<div class="t b" style="left:0;top:227px;font-size:10.6px;color:#000000;transform:translate3d(18.50px,0,0) scaleX(0.9185);">growing technological</div>
<div class="t b" style="left:0;top:240px;font-size:10.6px;color:#000000;transform:translate3d(18.21px,0,0) scaleX(0.8943);">investments in R&amp;D. Oil</div>
<div class="t b" style="left:0;top:254px;font-size:10.6px;color:#000000;transform:translate3d(18.51px,0,0) scaleX(0.8848);">and gas companies have</div>
<div class="t b" style="left:0;top:269px;font-size:10.6px;color:#000000;transform:translate3d(18.20px,0,0) scaleX(0.9050);">paced up their efforts</div>
<div class="t b" style="left:0;top:282px;font-size:10.6px;color:#000000;transform:translate3d(18.80px,0,0) scaleX(0.9123);">toward establishing</div>
<div class="t b" style="left:0;top:296px;font-size:10.6px;color:#000000;transform:translate3d(18.21px,0,0) scaleX(0.8919);">research centers and</div>
<div class="t b" style="left:0;top:310px;font-size:10.6px;color:#000000;transform:translate3d(18.20px,0,0) scaleX(0.9069);">pursuing collaboration</div>
<div class="t b" style="left:0;top:324px;font-size:10.6px;color:#000000;transform:translate3d(18.50px,0,0) scaleX(0.9071);">opportunities with</div>
<div class="t b" style="left:0;top:339px;font-size:10.6px;color:#000000;transform:translate3d(18.21px,0,0) scaleX(0.8925);">universities and service</div>
<div class="t b clipp" style="left:0;top:353px;font-size:10.6px;color:#000000;transform:translate3d(18.22px,0,0) scaleX(0.8826);">providers.</div>
<div class="t b" style="left:0;top:159px;font-size:10.6px;color:#000000;transform:translate3d(217.55px,0,0) scaleX(0.8981);">The increasing investments to</div>
<div class="t b" style="left:0;top:173px;font-size:10.6px;color:#000000;transform:translate3d(217.40px,0,0) scaleX(0.9193);">enhance network infrastructure,</div>
<div class="t b" style="left:0;top:187px;font-size:10.6px;color:#000000;transform:translate3d(217.40px,0,0) scaleX(0.9060);">and growing demand from oil and</div>
<div class="t b" style="left:0;top:201px;font-size:10.6px;color:#000000;transform:translate3d(217.41px,0,0) scaleX(0.8781);">gas operators to scale the</div>
<div class="t b" style="left:0;top:215px;font-size:10.6px;color:#000000;transform:translate3d(217.09px,0,0) scaleX(0.9160);">production of mature oilfields</div>
<div class="t b" style="left:0;top:230px;font-size:10.6px;color:#000000;transform:translate3d(217.41px,0,0) scaleX(0.8817);">and reservoirs are expected to</div>
<div class="t b" style="left:0;top:244px;font-size:10.6px;color:#000000;transform:translate3d(217.40px,0,0) scaleX(0.8928);">drive the growth of the oilfield</div>
<div class="t b" style="left:0;top:257px;font-size:10.6px;color:#000000;transform:translate3d(217.39px,0,0) scaleX(0.9320);">communications market.</div>
<div class="t b" style="left:0;top:322px;font-size:10.6px;color:#000000;transform:translate3d(217.55px,0,0) scaleX(0.8882);">The increasing focus on</div>
<div class="t b" style="left:0;top:335px;font-size:10.6px;color:#000000;transform:translate3d(217.40px,0,0) scaleX(0.8999);">offshore oil production and</div>
<div class="t b" style="left:0;top:349px;font-size:10.6px;color:#000000;transform:translate3d(217.10px,0,0) scaleX(0.9016);">ultra-deep water drilling</div>
<div class="t b" style="left:0;top:363px;font-size:10.6px;color:#000000;transform:translate3d(217.41px,0,0) scaleX(0.8836);">discoveries, and the</div>
<div class="t b" style="left:0;top:377px;font-size:10.6px;color:#000000;transform:translate3d(217.40px,0,0) scaleX(0.9029);">deployment of 5G to offer</div>
<div class="t b" style="left:0;top:391px;font-size:10.6px;color:#000000;transform:translate3d(217.40px,0,0) scaleX(0.9001);">growth opportunities for the</div>
<div class="t b" style="left:0;top:405px;font-size:10.6px;color:#000000;transform:translate3d(217.39px,0,0) scaleX(0.9379);">oilfield communications</div>
<div class="t b" style="left:0;top:419px;font-size:10.6px;color:#000000;transform:translate3d(217.07px,0,0) scaleX(0.9480);">market.</div>
<div class="t b" style="left:0;top:159px;font-size:10.6px;color:#000000;transform:translate3d(451.50px,0,0) scaleX(0.9214);">Acquisitions,</div>
<div class="t b" style="left:0;top:173px;font-size:10.6px;color:#000000;transform:translate3d(451.20px,0,0) scaleX(0.9071);">collaborations, and new</div>
<div class="t b" style="left:0;top:187px;font-size:10.6px;color:#000000;transform:translate3d(450.89px,0,0) scaleX(0.9180);">product launches are</div>
<div class="t b" style="left:0;top:201px;font-size:10.6px;color:#000000;transform:translate3d(451.20px,0,0) scaleX(0.9186);">expected to offer</div>
<div class="t b" style="left:0;top:215px;font-size:10.6px;color:#000000;transform:translate3d(450.90px,0,0) scaleX(0.9099);">lucrative growth</div>
<div class="t b" style="left:0;top:230px;font-size:10.6px;color:#000000;transform:translate3d(451.19px,0,0) scaleX(0.9219);">opportunities for market</div>
<div class="t b" style="left:0;top:243px;font-size:10.6px;color:#000000;transform:translate3d(450.89px,0,0) scaleX(0.9145);">players during the next</div>
<div class="t b" style="left:0;top:257px;font-size:10.6px;color:#000000;transform:translate3d(451.50px,0,0) scaleX(0.8702);">five years.</div>
<div class="t b" style="left:0;top:280px;font-size:10.6px;color:#000000;transform:translate3d(452.06px,0,0) scaleX(0.8915);">Europe is projected to hold the</div>
<div class="t b" style="left:0;top:293px;font-size:10.6px;color:#000000;transform:translate3d(452.20px,0,0) scaleX(0.9071);">highest share of the market</div>
<div class="t b" style="left:0;top:307px;font-size:10.6px;color:#000000;transform:translate3d(452.50px,0,0) scaleX(0.8947);">during the forecast period.</div>
<div class="t b" style="left:0;top:322px;font-size:10.6px;color:#000000;transform:translate3d(452.06px,0,0) scaleX(0.8941);">Factors such as regulations for</div>
<div class="t b" style="left:0;top:335px;font-size:10.6px;color:#000000;transform:translate3d(452.21px,0,0) scaleX(0.8904);">improving safety standards,</div>
<div class="t b" style="left:0;top:350px;font-size:10.6px;color:#000000;transform:translate3d(452.20px,0,0) scaleX(0.9025);">presence of mature oil and gas</div>
<div class="t b" style="left:0;top:363px;font-size:10.6px;color:#000000;transform:translate3d(452.20px,0,0) scaleX(0.8982);">reserves, combined with the</div>
<div class="t b" style="left:0;top:377px;font-size:10.6px;color:#000000;transform:translate3d(452.21px,0,0) scaleX(0.8970);">increase in oil production are</div>
<div class="t b" style="left:0;top:391px;font-size:10.6px;color:#000000;transform:translate3d(452.50px,0,0) scaleX(0.8968);">expected to drive the European</div>
<div class="t b" style="left:0;top:406px;font-size:10.6px;color:#000000;transform:translate3d(452.49px,0,0) scaleX(0.9458);">oilfield communications</div>
<div class="t b" style="left:0;top:420px;font-size:10.6px;color:#000000;transform:translate3d(452.17px,0,0) scaleX(0.9531);">market.</div>
<div class="t cap" style="left:0;top:462px;font-size:11.8px;color:#1a1a1a;transform:translate3d(226.68px,0,0) scaleX(1.1290);">e: estimated; p: projected</div>
</body></html>
